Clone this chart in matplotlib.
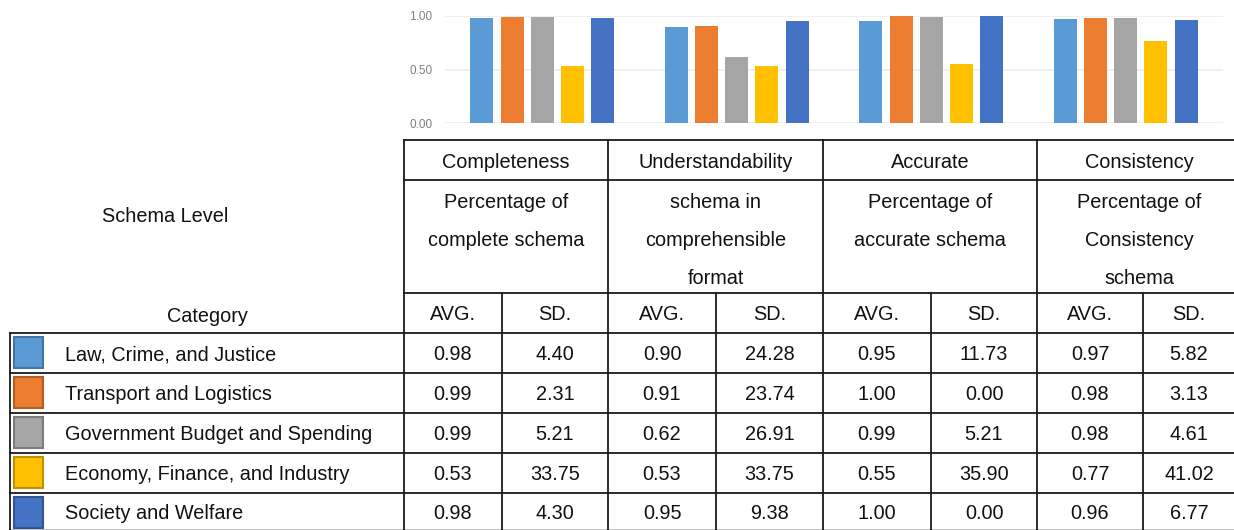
import matplotlib
matplotlib.use("Agg")
import matplotlib.pyplot as plt
import numpy as np

# ---------------- data ----------------
dimensions = ["Completeness", "Understandability", "Accurate", "Consistency"]
descriptions = [["Percentage of", "complete schema"],
                ["schema in", "comprehensible", "format"],
                ["Percentage of", "accurate schema"],
                ["Percentage of", "Consistency", "schema"]]
categories = ["Law, Crime, and Justice", "Transport and Logistics",
              "Government Budget and Spending", "Economy, Finance, and Industry",
              "Society and Welfare"]
colors = ["#5B9BD5", "#ED7D31", "#A5A5A5", "#FFC000", "#4472C4"]

avg_completeness = [0.98, 0.99, 0.99, 0.53, 0.98]
sd_completeness = [4.40, 2.31, 5.21, 33.75, 4.30]
avg_understand = [0.90, 0.91, 0.62, 0.53, 0.95]
sd_understand = [24.28, 23.74, 26.91, 33.75, 9.38]
avg_accurate = [0.95, 1.00, 0.99, 0.55, 1.00]
sd_accurate = [11.73, 0.00, 5.21, 35.90, 0.00]
avg_consistency = [0.97, 0.98, 0.98, 0.77, 0.96]
sd_consistency = [5.82, 3.13, 4.61, 41.02, 6.77]

yticks = [0.0, 0.5, 1.0]

avgs = [avg_completeness, avg_understand, avg_accurate, avg_consistency]
sds = [sd_completeness, sd_understand, sd_accurate, sd_consistency]

W, H = 1234, 530
fig = plt.figure(figsize=(W / 100, H / 100), dpi=100)
FONT = "Liberation Sans"
FS = 14.3

def fx(px):
    return px / W
def fy(py):
    return 1 - py / H

# ---------------- bar chart ----------------
ax = fig.add_axes([fx(445), fy(123), (1223 - 445) / W, (123 - 16) / H])
x = np.arange(len(dimensions))
for i, cat in enumerate(categories):
    vals = [a[i] for a in avgs]
    ax.bar(x + (i - 2) * 0.155, vals, width=0.118, color=colors[i], zorder=3)
ax.set_xlim(-0.5, len(dimensions) - 0.5)
ax.set_ylim(0, 1.0)
ax.set_yticks(yticks)
ax.set_yticklabels([f"{t:.2f}" for t in yticks], fontsize=8.5, color="#808080",
                   family=FONT)
ax.tick_params(axis="y", length=0, pad=9)
ax.tick_params(axis="x", length=0, labelbottom=False)
ax.grid(axis="y", color="#EDEDED", linewidth=1.2, zorder=0)
for s in ax.spines.values():
    s.set_visible(False)

# ---------------- table overlay ----------------
ov = fig.add_axes([0, 0, 1, 1])
ov.set_xlim(0, W)
ov.set_ylim(H, 0)
ov.axis("off")
lc = "#1a1a1a"
lw = 1.3

col_edges = [404, 608, 823, 1037]
sub_mid = [502, 716, 931, 1143]
col_right = [608, 823, 1037, 1250]
row_top, row_h1, row_h2 = 140, 180, 293
data_rows = [333, 373, 413, 453, 493, 530]
dy = 2

ov.plot([404, W], [row_top, row_top], color=lc, lw=lw)
ov.plot([404, W], [row_h1, row_h1], color=lc, lw=lw)
ov.plot([404, W], [row_h2, row_h2], color=lc, lw=lw)
for yy in data_rows[:-1]:
    ov.plot([10, W], [yy, yy], color=lc, lw=lw)
ov.plot([10, W], [529.5, 529.5], color="#BBBBBB", lw=lw)
for xe in col_edges:
    ov.plot([xe, xe], [row_top, 530], color=lc, lw=lw)
for xm in sub_mid:
    ov.plot([xm, xm], [row_h2, 530], color=lc, lw=lw)
ov.plot([10, 10], [333, 530], color=lc, lw=lw)

txt = dict(ha="center", va="center", fontsize=FS, family=FONT, color="#111111")
line_y = [200, 239, 277]
for j, d in enumerate(dimensions):
    cx = sub_mid[j] + (sub_mid[j] - col_edges[j]) * 0.0 + (col_right[j] - col_edges[j]) / 2 - (sub_mid[j] - col_edges[j])
    cx = (col_edges[j] + col_right[j]) / 2 if j < 3 else 1139
    ov.text(cx, 160 + dy, d, **txt)
    for k, line in enumerate(descriptions[j]):
        ov.text(cx, line_y[k] + dy, line, **txt)
    ov.text((col_edges[j] + sub_mid[j]) / 2, 313 + dy, "AVG.", **txt)
    ov.text((sub_mid[j] + col_right[j]) / 2 if j < 3 else 1189, 313 + dy, "SD.", **txt)

ov.text(165, 214 + dy, "Schema Level", **txt)
ov.text(207, 315 + dy, "Category", **txt)

for i, cat in enumerate(categories):
    yc = (data_rows[i] + data_rows[i + 1]) / 2 + dy
    edge = np.array(matplotlib.colors.to_rgb(colors[i])) * 0.75
    ov.add_patch(plt.Rectangle((14, data_rows[i] + 4), 29, 31,
                               facecolor=colors[i], edgecolor=edge, lw=1.5))
    ov.text(65, yc, cat, ha="left", va="center", fontsize=FS, family=FONT,
            color="#111111")
    for j in range(len(dimensions)):
        ov.text((col_edges[j] + sub_mid[j]) / 2, yc, f"{avgs[j][i]:.2f}", **txt)
        sx = (sub_mid[j] + col_right[j]) / 2 if j < 3 else 1189
        ov.text(sx, yc, f"{sds[j][i]:.2f}", **txt)

fig.savefig("out.png", dpi=100)
